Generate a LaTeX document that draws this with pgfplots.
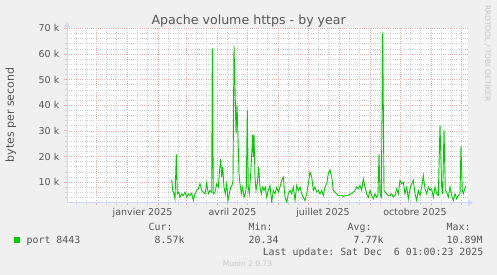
\documentclass[border=0pt]{standalone}
\usepackage{pgfplots}
\pgfplotsset{compat=1.18}
\usepackage{pgfplotstable}
\usepackage{fontspec}
\setmainfont{DejaVu Sans}
\setmonofont{DejaVu Sans Mono}
\usetikzlibrary{arrows.meta}
\definecolor{bg}{HTML}{F0F0F0}
\definecolor{fontc}{HTML}{555555}
\definecolor{mgrid}{HTML}{EDB0B0}
\definecolor{ngrid}{HTML}{D2D2D2}
\definecolor{axisc}{HTML}{CFD6F8}
\definecolor{lgreen}{HTML}{00CC00}
\definecolor{faint}{HTML}{C4C4C4}
\pgfplotstableread{
d v
44.7 11000
45.7 6800
47 5450
48 3500
49.3 20800
50.3 5450
51.7 6100
53 4150
54.7 5450
56.3 4800
58 6100
59.7 4150
61.3 5450
63 4800
64.7 5700
66.3 2850
68 5450
69.7 6800
71.3 7400
73 9400
74.7 6800
76.3 6100
78 5450
79.7 9750
81.3 5450
83 6800
84.7 6100
85.3 62200
86.3 5450
88 6100
89.7 9400
91.3 8100
92.3 13300
93.7 19100
94.7 12000
95.7 15900
97 8100
98.3 5450
99.7 9400
101 2850
102.3 5450
103.7 8100
105 8700
106 10700
107 63100
108 47200
109 28900
110 40000
111 27600
112 13300
113 9400
114.3 5450
115.7 8100
117 4150
118.3 5450
119.3 8100
120.3 38000
121.3 8100
122.3 5450
123.7 13300
124.7 21100
125.7 28500
126.3 19800
127 28500
128 12000
129 6800
130.3 9400
131.7 15900
133 8100
134.3 5450
135.7 8100
137 6800
138.3 8100
139.7 4150
141.3 6800
143 8700
144.7 2200
146.3 6800
148 5450
149.7 8100
151.3 6100
153 8100
154.7 10700
156.3 12000
158 4150
159.7 2200
161.3 5450
163 6800
164.7 5450
166.3 8100
168 2850
169.7 8700
171.3 6800
173 8100
174.7 5450
176.3 4150
178 2850
179.7 5450
181.3 9400
183 13900
184.7 12000
186.3 6800
188 8100
189.7 6100
191.3 6800
193 5450
194.7 6800
196.3 4800
198 8100
199.7 9400
201.3 13300
203 14800
204.7 12000
206.3 6800
208 6100
209.7 5450
211.3 4800
213 4800
214.7 4800
216.3 4400
218 4800
219.7 4800
221.3 4800
223 5450
224.7 5450
226.3 6100
228 6800
229.7 8100
231.3 7400
233 8700
234.7 6800
236.3 11300
238 8100
239.7 5450
241.3 4150
243 6800
244.7 4800
246.3 3500
248 5450
249.7 4150
251 5000
252 21100
253 5450
254.3 4150
255.7 68400
257 6800
258.3 6100
259.7 5450
261.3 4800
263 4800
264.7 5450
266.3 4150
268 4800
269.7 7400
271.3 5450
273 10700
274.7 9400
276.3 10000
278 5450
279.7 8100
281.3 3500
283 7400
284.7 9400
286.3 10700
288 5450
289.7 2850
291.3 6800
293 4800
294.7 8100
296.3 12600
298 7400
299.7 5450
301.3 8100
303 6800
304.7 7400
306.3 4150
308 8100
309.7 5450
311.3 4800
313 32400
314.7 8100
315.7 5450
317 30500
318.3 6800
319.7 6100
321.3 4150
323 8100
324.7 4800
326.3 2850
328 5450
329.7 3500
331.3 4800
333 5450
334 24100
335.3 6800
336.3 5450
337.7 7400
338.7 8600
}\datatable
\newcommand{\monof}{\ttfamily\fontsize{9.9bp}{12bp}\selectfont}
\begin{document}
\begin{tikzpicture}
\fill[bg] (0bp,0bp) rectangle (497bp,275bp);
\begin{axis}[
  at={(67bp,72.3bp)}, anchor=south west,
  scale only axis, width=401bp, height=174.4bp,
  xmin=-60, xmax=341, ymin=2000, ymax=70000,
  axis lines=left,
  axis background/.style={fill=white},
  x axis line style={axisc, line width=1bp, -{Triangle[length=5bp,width=6bp]}, shorten >=-5bp},
  y axis line style={axisc, line width=1bp, -{Triangle[length=5bp,width=6bp]}, shorten >=-6bp},
  scaled y ticks=false,
  xtick={-31,0,31,59,90,120,151,181,212,243,273,304,334},
  xticklabels={},
  minor xtick={-51,-41,-21,-11,10,20,41,51,69,79,100,110,130,140,161,171,191,201,222,232,253,263,283,293,314,324},
  extra x ticks={15.5,105.5,196,288},
  extra x tick labels={janvier 2025,avril 2025,juillet 2025,octobre 2025},
  extra x tick style={grid=none, major tick length=0pt},
  ytick={10000,20000,30000,40000,50000,60000,70000},
  yticklabels={10 k,20 k,30 k,40 k,50 k,60 k,70 k},
  minor ytick={4000,6000,8000,12000,14000,16000,18000,22000,24000,26000,28000,32000,34000,36000,38000,42000,44000,46000,48000,52000,54000,56000,58000,62000,64000,66000,68000},
  grid=both,
  major grid style={mgrid, dash pattern=on 1bp off 1.2bp, line width=0.6bp},
  minor grid style={ngrid, dash pattern=on 1bp off 1.2bp, line width=0.6bp},
  tick align=outside,
  major tick length=2.5bp, minor tick length=2bp,
  major tick style={mgrid, line width=0.8bp},
  minor tick style={ngrid, line width=0.8bp},
  every x tick label/.append style={anchor=base, inner sep=0pt, yshift=-12.8bp, text=fontc, font=\fontsize{9.5bp}{11bp}\selectfont},
  every y tick label/.append style={anchor=east, inner sep=0pt, xshift=-5bp, text=fontc, font=\fontsize{9.5bp}{11bp}\selectfont},
]
\addplot[lgreen, line width=0.9bp, mark=none] table[x=d,y=v]{\datatable};
\end{axis}
\node[anchor=base, font=\fontsize{12.6bp}{14bp}\selectfont, text=fontc, inner sep=0pt] at (248.7bp,250.8bp) {Apache volume https - by year};
\node[anchor=base, rotate=90, font=\fontsize{11bp}{13bp}\selectfont, text=fontc, inner sep=0pt] at (13.8bp,160bp) {bytes per second};
\node[anchor=base, rotate=-90, font=\fontsize{7.5bp}{9bp}\selectfont, text=faint, inner sep=0pt] at (485bp,221.5bp) {RRDTOOL / TOBI OETIKER};
\fill[lgreen] (14bp,32bp) rectangle (20bp,38bp);
\node[anchor=base west, font=\monof, text=fontc, inner sep=0pt] at (26.5bp,31.7bp) {port 8443};
\node[anchor=base west, font=\monof, text=fontc, inner sep=0pt] at (148.5bp,44.3bp) {Cur:};
\node[anchor=base west, font=\monof, text=fontc, inner sep=0pt] at (248.5bp,44.3bp) {Min:};
\node[anchor=base west, font=\monof, text=fontc, inner sep=0pt] at (347.5bp,44.3bp) {Avg:};
\node[anchor=base west, font=\monof, text=fontc, inner sep=0pt] at (446.5bp,44.3bp) {Max:};
\node[anchor=base west, font=\monof, text=fontc, inner sep=0pt] at (154.5bp,31.7bp) {8.57k};
\node[anchor=base west, font=\monof, text=fontc, inner sep=0pt] at (248.5bp,31.7bp) {20.34};
\node[anchor=base west, font=\monof, text=fontc, inner sep=0pt] at (353.5bp,31.7bp) {7.77k};
\node[anchor=base west, font=\monof, text=fontc, inner sep=0pt] at (446.5bp,31.7bp) {10.89M};
\node[anchor=base east, font=\monof, text=fontc, inner sep=0pt] at (483.5bp,20bp) {Last update: Sat Dec\ \ 6 01:00:23 2025};
\node[anchor=base, font=\fontsize{7.5bp}{9bp}\selectfont, text=faint, inner sep=0pt] at (247.5bp,8.3bp) {Munin 2.0.73};
\pgfresetboundingbox
\useasboundingbox (0bp,0bp) rectangle (497bp,275bp);
\end{tikzpicture}
\end{document}
